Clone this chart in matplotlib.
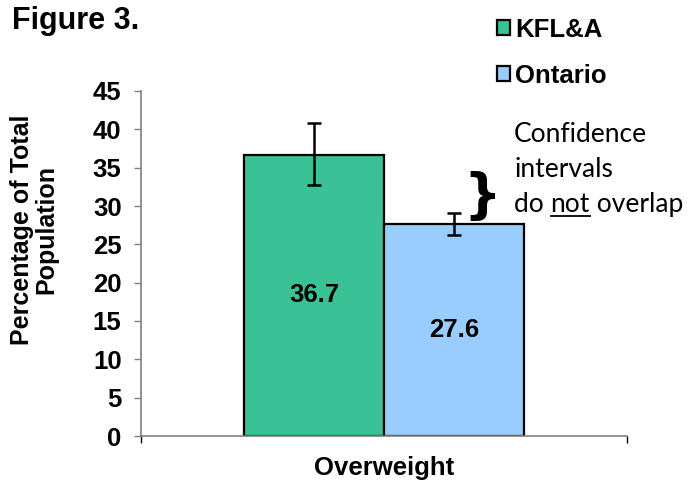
import matplotlib.pyplot as plt
from matplotlib.lines import Line2D

# Data
category = "Overweight"
series = ["KFL&A", "Ontario"]
values = [36.7, 27.6]
ci_low = [32.7, 26.2]
ci_high = [40.8, 29.1]
colors = ["#3ac296", "#99ccff"]

plt.rcParams['font.family'] = ['Liberation Sans', 'DejaVu Sans']

fig = plt.figure(figsize=(6.99, 4.82), dpi=100)
ax = fig.add_axes([141 / 699, 1 - 436 / 482, 486 / 699, 345 / 482])

xpos = [-0.5, 0.5]
bars = ax.bar(xpos, values, width=1.0, color=colors, edgecolor="black",
              linewidth=1.6, label=series, zorder=2)
yerr = [[v - lo for v, lo in zip(values, ci_low)],
        [hi - v for v, hi in zip(values, ci_high)]]
ax.errorbar(xpos, values, yerr=yerr, fmt="none", ecolor="black",
            elinewidth=1.8, capsize=5, capthick=1.8, zorder=3)

# value labels centred in the bars
for x, v in zip(xpos, values):
    ax.text(x, v / 2, f"{v:.1f}", ha="center", va="center",
            fontsize=18.5, fontweight="bold")

half = 243 / 140
ax.set_xlim(-half, half)
ax.set_ylim(0, 45)
ax.set_yticks(range(0, 50, 5))
ax.set_xticks([-half, half])
ax.set_xticklabels(["", ""])
ax.tick_params(axis="y", direction="out", length=5, width=1, color="#808080",
               labelsize=18.5, pad=9)
ax.tick_params(axis="x", direction="out", length=5, width=1, color="#000000")
for lab in ax.get_yticklabels():
    lab.set_fontweight("bold")
for s in ["top", "right"]:
    ax.spines[s].set_visible(False)
for s in ["left", "bottom"]:
    ax.spines[s].set_color("#808080")
    ax.spines[s].set_linewidth(1.2)

ax.set_xlabel(category, fontsize=18.5, fontweight="bold", labelpad=6)
fig.text(34 / 699, 1 - 230 / 482, "Percentage of Total\nPopulation",
         rotation=90, ha="center", va="center", fontsize=18,
         fontweight="bold", linespacing=1.0)

fig.text(12 / 699, 1 - 21 / 482, "Figure 3.", fontsize=22,
         fontweight="bold", va="center")

# legend
fig.legend(handles=bars, labels=series, loc="upper left",
           bbox_to_anchor=(484 / 699, 1 - 5 / 482), frameon=False,
           prop={"weight": "bold", "size": 18.5},
           handlelength=0.5, handleheight=0.5, handletextpad=0.2,
           labelspacing=0.85, borderpad=0)

# brace + annotation
ax.text(0.70, 31.2, "}", ha="center", va="center", fontsize=38,
        fontweight="bold", family="DejaVu Sans")
tx = 514 / 699
fs = 19
lines = ["Confidence", "intervals"]
for i, t in enumerate(lines):
    fig.text(tx, 1 - (142 + 35 * i) / 482, t, fontsize=fs, family="Lato",
             va="baseline")
t1 = fig.text(tx, 1 - 212 / 482, "do ", fontsize=fs, family="Lato",
              va="baseline")
fig.canvas.draw()
r = fig.canvas.get_renderer()
w1 = t1.get_window_extent(r).width / 699
t2 = fig.text(tx + w1, 1 - 212 / 482, "not", fontsize=fs, family="Lato",
              va="baseline")
fig.canvas.draw()
w2 = t2.get_window_extent(r).width / 699
fig.text(tx + w1 + w2, 1 - 212 / 482, " overlap", fontsize=fs,
         family="Lato", va="baseline")
fig.add_artist(Line2D([tx + w1, tx + w1 + w2], [1 - 216 / 482] * 2,
                      color="black", linewidth=1.3))

fig.savefig("out.png", dpi=100)
